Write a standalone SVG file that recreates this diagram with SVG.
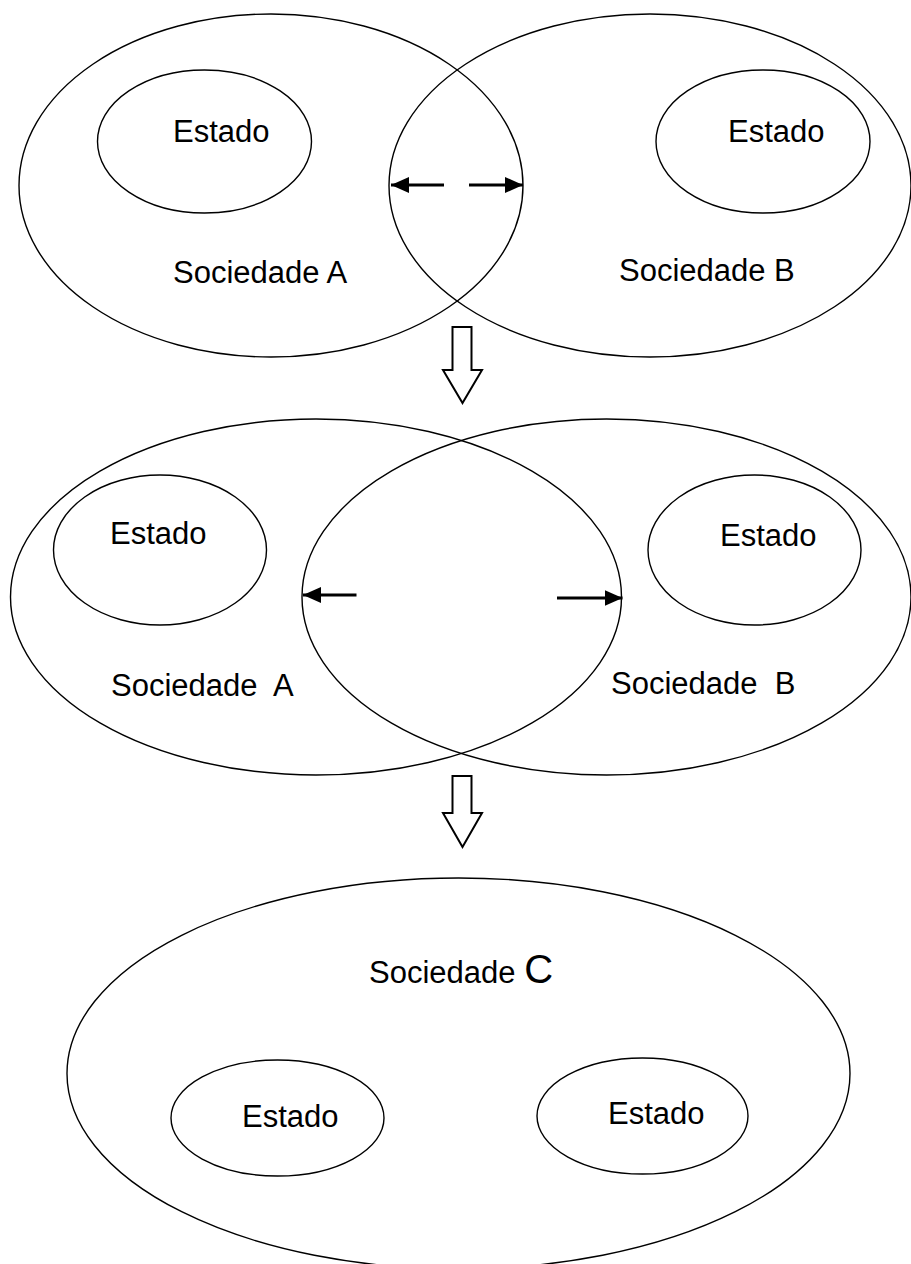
<svg xmlns="http://www.w3.org/2000/svg" width="911" height="1264" viewBox="0 0 911 1264">
<style>
.e{fill:none;stroke:#000;stroke-width:1.4}
.t{font-family:"Liberation Sans",Arial,sans-serif;font-size:31px;fill:#000}
.a{stroke:#000;stroke-width:3;fill:none}
.b{fill:#fff;stroke:#000;stroke-width:2;stroke-linejoin:miter}
</style>
<defs>
<marker id="ah" markerWidth="18" markerHeight="16" refX="18" refY="8" orient="auto" markerUnits="userSpaceOnUse">
<path d="M0,0 L18,8 L0,16 Z" fill="#000"/>
</marker>
</defs>
<rect width="911" height="1264" fill="#fff"/>
<g id="row1">
<g id="sociedadeA1"><ellipse class="e" cx="271" cy="185.5" rx="252" ry="171.5"/><text class="t" x="173" y="283">Sociedade A</text></g>
<g id="sociedadeB1"><ellipse class="e" cx="650" cy="185.5" rx="261" ry="171.5"/><text class="t" x="619" y="281">Sociedade B</text></g>
<g id="estadoA1"><ellipse class="e" cx="204.5" cy="141.5" rx="107" ry="71.5"/><text class="t" x="173" y="142">Estado</text></g>
<g id="estadoB1"><ellipse class="e" cx="763" cy="141.5" rx="107" ry="71.5"/><text class="t" x="728" y="142">Estado</text></g>
</g>
<g id="row2">
<g id="sociedadeA2"><ellipse class="e" cx="316" cy="597" rx="305.5" ry="178"/><text class="t" x="111" y="696" xml:space="preserve">Sociedade  A</text></g>
<g id="sociedadeB2"><ellipse class="e" cx="606.5" cy="597" rx="304.5" ry="178"/><text class="t" x="611" y="694" xml:space="preserve">Sociedade  B</text></g>
<g id="estadoA2"><ellipse class="e" cx="160" cy="550" rx="106.5" ry="75"/><text class="t" x="110" y="544">Estado</text></g>
<g id="estadoB2"><ellipse class="e" cx="754.5" cy="550" rx="106.5" ry="75"/><text class="t" x="720" y="546">Estado</text></g>
</g>
<g id="row3">
<g id="sociedadeC"><ellipse class="e" cx="458.5" cy="1073.5" rx="391.5" ry="195.5"/><text class="t" x="369" y="983">Sociedade <tspan font-size="40">C</tspan></text></g>
<g id="estadoC1"><ellipse class="e" cx="277.5" cy="1118" rx="106.5" ry="58"/><text class="t" x="242" y="1127">Estado</text></g>
<g id="estadoC2"><ellipse class="e" cx="642.5" cy="1116" rx="105.5" ry="58"/><text class="t" x="608" y="1124">Estado</text></g>
</g>
<g id="connectors">
<line class="a" x1="444" y1="185" x2="391" y2="185" marker-end="url(#ah)"/>
<line class="a" x1="469" y1="185" x2="523" y2="185" marker-end="url(#ah)"/>
<line class="a" x1="356.5" y1="595" x2="303" y2="595" marker-end="url(#ah)"/>
<line class="a" x1="557" y1="598" x2="622.5" y2="598" marker-end="url(#ah)"/>
<path class="b" d="M452.5,327 H471.5 V370 H482 L462.5,403 L443,370 H452.5 Z"/>
<path class="b" d="M452.5,776 H471.5 V813 H482 L462.5,847 L443,813 H452.5 Z"/>
</g>
</svg>
